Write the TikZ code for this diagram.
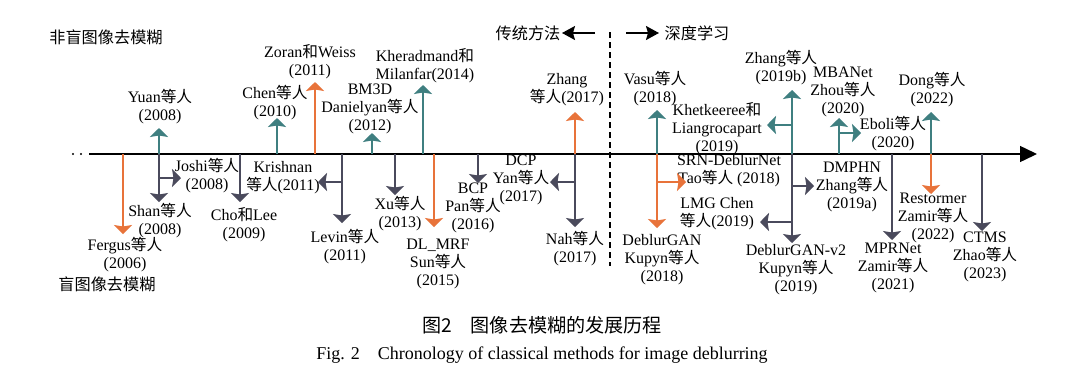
\documentclass[tikz,border=0pt]{standalone}
\usepackage{fontspec}
\setmainfont{Liberation Serif}
\newfontfamily\cjk{Noto Sans CJK SC}[Scale=0.98]
\usetikzlibrary{arrows.meta}
\newcommand{\zhc}[1]{{\cjk #1}}
\definecolor{tealc}{HTML}{3F7F80}
\definecolor{orngc}{HTML}{E8733A}
\definecolor{darkc}{HTML}{4A4A5C}
\begin{document}
\begin{tikzpicture}[x=1pt,y=-1pt,
  lab/.style={align=center,inner sep=0pt,font=\fontsize{16}{18}\selectfont},
  conn/.style={line width=1.4pt,-{Stealth[length=9pt,width=18pt,inset=1.5pt]}},
  tealarr/.style={conn,draw=tealc,fill=tealc},
  orarr/.style={conn,draw=orngc,fill=orngc},
  darkarr/.style={conn,draw=darkc,fill=darkc},
  topnote/.style={inner sep=0pt,font=\fontsize{16.5}{18}\selectfont\cjk},
  toparr/.style={line width=1.4pt,-{Stealth[length=13pt,width=14pt,inset=2pt]}},
  capzh/.style={inner sep=0pt,font=\fontsize{19.5}{22}\selectfont\cjk},
  capen/.style={inner sep=0pt,font=\fontsize{18}{20}\selectfont}]
\useasboundingbox (0,0) rectangle (1080,373);
\fill[white] (0,0) rectangle (1080,373);

% axis
\coordinate (ax0) at (89,154);
\coordinate (ax1) at (1037,154);
\draw[line width=1.5pt,-{Triangle[length=17pt,width=16pt]}] (ax0) -- (ax1);
\fill (73,154) circle (1.1pt);
\fill (81,154) circle (1.1pt);

% divider
\coordinate (dtop) at (610,32);
\coordinate (dbot) at (610,266);
\draw[line width=2pt,dash pattern=on 6pt off 4pt] (dtop) -- (dbot);

\node[topnote] (trad) at (528,33) {传统方法};
\node[topnote] (deep) at (697,33) {深度学习};
\coordinate (tl0) at (595,33); \coordinate (tl1) at (562,33);
\coordinate (tr0) at (626,33); \coordinate (tr1) at (659,33);
\draw[toparr] (tl0) -- (tl1);
\draw[toparr] (tr0) -- (tr1);

\node[topnote] (nonblind) at (106,37) {非盲图像去模糊};
\node[topnote] (blind) at (107,284) {盲图像去模糊};

% ---------- labels ----------
\node[lab] (yuan) at (160,107) {Yuan\zhc{等人}\\(2008)};
\node[lab] (chen) at (275,103) {Chen\zhc{等人}\\(2010)};
\node[lab] (zoran) at (310,62) {Zoran\zhc{和}Weiss\\(2011)};
\node[lab] (bm3d) at (370,109) {BM3D\\Danielyan\zhc{等人}\\(2012)};
\node[lab] (kher) at (425,66) {Kheradmand\zhc{和}\\Milanfar(2014)};
\node[lab] (zh17) at (567,90) {Zhang\\\zhc{等人}(2017)};
\node[lab] (vasu) at (655,89) {Vasu\zhc{等人}\\(2018)};
\node[lab] (zh19b) at (781,68) {Zhang\zhc{等人}\\(2019b)};
\node[lab] (mba) at (843,92) {MBANet\\Zhou\zhc{等人}\\(2020)};
\node[lab] (dong) at (932,90) {Dong\zhc{等人}\\(2022)};
\node[lab] (khet) at (717,129) {Khetkeeree\zhc{和}\\Liangrocapart\\(2019)};
\node[lab] (eboli) at (893,134) {Eboli\zhc{等人}\\(2020)};

\node[lab] (fergus) at (125,255) {Fergus\zhc{等人}\\(2006)};
\node[lab] (shan) at (160,221) {Shan\zhc{等人}\\(2008)};
\node[lab] (joshi) at (207,176) {Joshi\zhc{等人}\\(2008)};
\node[lab] (cho) at (244,225) {Cho\zhc{和}Lee\\(2009)};
\node[lab] (krish) at (283,178) {Krishnan\\\zhc{等人}(2011)};
\node[lab] (levin) at (345,247) {Levin\zhc{等人}\\(2011)};
\node[lab] (xu) at (400,214) {Xu\zhc{等人}\\(2013)};
\node[lab] (dlmrf) at (438,264) {DL\_MRF\\Sun\zhc{等人}\\(2015)};
\node[lab] (bcp) at (473,208) {BCP\\Pan\zhc{等人}\\(2016)};
\node[lab] (dcp) at (521,180) {DCP\\Yan\zhc{等人}\\(2017)};
\node[lab] (nah) at (575,249) {Nah\zhc{等人}\\(2017)};
\node[lab] (srn) at (729,171) {SRN-DeblurNet\\Tao\zhc{等人} (2018)};
\node[lab] (dgan) at (662,260) {DeblurGAN\\Kupyn\zhc{等人}\\(2018)};
\node[lab] (lmg) at (717,214) {LMG Chen\\\zhc{等人}(2019)};
\node[lab] (dmphn) at (852,187) {DMPHN\\Zhang\zhc{等人}\\(2019a)};
\node[lab] (dgan2) at (796,270) {DeblurGAN-v2\\Kupyn\zhc{等人}\\(2019)};
\node[lab] (mpr) at (893,268) {MPRNet\\Zamir\zhc{等人}\\(2021)};
\node[lab] (restor) at (933,218) {Restormer\\Zamir\zhc{等人}\\(2022)};
\node[lab] (ctms) at (985,257) {CTMS\\Zhao\zhc{等人}\\(2023)};

% ---------- connectors ----------
\coordinate (aF) at (123,154); \coordinate (tF) at (123,234);
\draw[orarr] (aF) -- (tF);
\coordinate (aY) at (159,154); \coordinate (tY) at (159,128);
\coordinate (tS) at (159,202);
\coordinate (bJ) at (159,178); \coordinate (tJ) at (181,178);
\draw[tealarr] (aY) -- (tY);
\draw[darkarr] (aY) -- (tS);
\draw[darkarr] (bJ) -- (tJ);
\coordinate (aC) at (240,154); \coordinate (tC) at (240,202);
\draw[darkarr] (aC) -- (tC);
\coordinate (aCh) at (277,154); \coordinate (tCh) at (277,118);
\draw[tealarr] (aCh) -- (tCh);
\coordinate (aZ) at (315,154); \coordinate (tZ) at (315,82);
\draw[orarr] (aZ) -- (tZ);
\coordinate (aL) at (342,154); \coordinate (tL) at (342,223);
\coordinate (bK) at (342,182); \coordinate (tK) at (318,182);
\draw[darkarr] (aL) -- (tL);
\draw[darkarr] (bK) -- (tK);
\coordinate (aB) at (372,154); \coordinate (tB) at (372,133);
\draw[tealarr] (aB) -- (tB);
\coordinate (aX) at (395,154); \coordinate (tX) at (395,195);
\draw[darkarr] (aX) -- (tX);
\coordinate (aKh) at (423,154); \coordinate (tKh) at (423,85);
\draw[tealarr] (aKh) -- (tKh);
\coordinate (aD) at (434,154); \coordinate (tD) at (434,227);
\draw[orarr] (aD) -- (tD);
\coordinate (aP) at (478,154); \coordinate (tP) at (478,183);
\draw[darkarr] (aP) -- (tP);
\coordinate (aN) at (575,154); \coordinate (tZ17) at (575,112);
\coordinate (tN) at (575,227);
\coordinate (bDC) at (575,182); \coordinate (tDC) at (550,182);
\draw[orarr] (aN) -- (tZ17);
\draw[darkarr] (aN) -- (tN);
\draw[darkarr] (bDC) -- (tDC);
\coordinate (aV) at (657,154); \coordinate (tV) at (657,110);
\coordinate (tG) at (657,228);
\coordinate (bS) at (657,182); \coordinate (tSr) at (686,182);
\draw[tealarr] (aV) -- (tV);
\draw[orarr] (aV) -- (tG);
\draw[orarr] (bS) -- (tSr);
\coordinate (aZb) at (792,154); \coordinate (tZb) at (792,90);
\coordinate (bKt) at (792,125); \coordinate (tKt) at (767,125);
\coordinate (tG2) at (792,243);
\coordinate (bDM) at (792,186); \coordinate (tDM) at (814,186);
\coordinate (bLM) at (792,222); \coordinate (tLM) at (760,222);
\draw[tealarr] (aZb) -- (tZb);
\draw[tealarr] (bKt) -- (tKt);
\draw[darkarr] (aZb) -- (tG2);
\draw[darkarr] (bDM) -- (tDM);
\draw[darkarr] (bLM) -- (tLM);
\coordinate (aM) at (839,154); \coordinate (tM) at (839,118);
\coordinate (bE) at (839,133); \coordinate (tE) at (861,133);
\draw[tealarr] (aM) -- (tM);
\draw[tealarr] (bE) -- (tE);
\coordinate (aMP) at (892,154); \coordinate (tMP) at (892,240);
\draw[darkarr] (aMP) -- (tMP);
\coordinate (aDo) at (931,154); \coordinate (tDo) at (931,112);
\coordinate (tR) at (931,194);
\draw[tealarr] (aDo) -- (tDo);
\draw[orarr] (aDo) -- (tR);
\coordinate (aCT) at (982,154); \coordinate (tCT) at (982,231);
\draw[darkarr] (aCT) -- (tCT);

% captions
\node[capzh] (cap1) at (542,325) {图2\hspace{1em}图像去模糊的发展历程};
\node[capen] (cap2) at (542,355) {Fig. 2\hspace{1em}Chronology of classical methods for image deblurring};
\end{tikzpicture}
\end{document}
